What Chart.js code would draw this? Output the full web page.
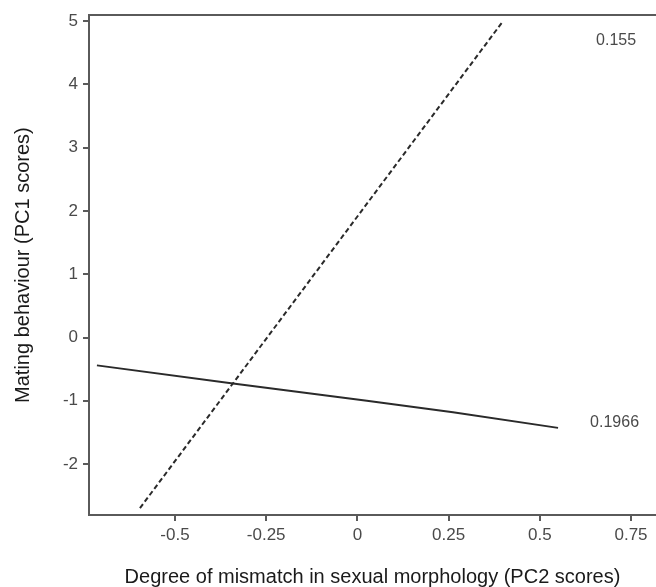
<!DOCTYPE html>
<html>
<head>
<meta charset="utf-8">
<script src="https://cdn.jsdelivr.net/npm/chart.js@4.4.1/dist/chart.umd.min.js"></script>
<style>
  html, body { margin: 0; padding: 0; background: #fff; }
  #wrap { width: 656px; height: 587px; position: relative; }
</style>
</head>
<body>
<div id="wrap"><canvas id="graphique"></canvas></div>
<script>
// Donnees
const solidX = [-0.714, -0.341, 0.026, 0.262, 0.55];
const solidY = [-0.44, -0.728, -1.0, -1.18, -1.428];
const dashedX = [-0.596, 0.399];
const dashedY = [-2.696, 5.0];

const xTicks = [-0.5, -0.25, 0, 0.25, 0.5, 0.75];
const xTickLabels = ['-0.5', '-0.25', '0', '0.25', '0.5', '0.75'];
const yTicks = [-2, -1, 0, 1, 2, 3, 4, 5];
const yTickLabels = ['-2', '-1', '0', '1', '2', '3', '4', '5'];

const labelTexts = ['0.155', '0.1966'];
const labelX = [0.709, 0.705];
const labelY = [4.70, -1.35];

const xTitle = 'Degree of mismatch in sexual morphology (PC2 scores)';
const yTitle = 'Mating behaviour (PC1 scores)';

// Styles
const axisColor = '#5a5a5a';
const tickColor = '#4a4a4a';
const lineColor = '#2a2a2a';
const fontFamily = 'Arial, "Liberation Sans", sans-serif';

const toPoints = (xs, ys) => xs.map((x, i) => ({ x: x, y: ys[i] }));

// Plugin pour les valeurs ecrites dans le graphique
const valueLabels = {
    id: 'valueLabels',
    afterDatasetsDraw(chart) {
        const ctx = chart.ctx;
        const sx = chart.scales.x;
        const sy = chart.scales.y;
        ctx.save();
        ctx.font = '16px ' + fontFamily;
        ctx.fillStyle = tickColor;
        ctx.textAlign = 'center';
        ctx.textBaseline = 'middle';
        labelTexts.forEach((t, i) => {
            ctx.fillText(t, sx.getPixelForValue(labelX[i]), sy.getPixelForValue(labelY[i]));
        });
        ctx.restore();
    }
};

const canvas = document.getElementById('graphique');

new Chart(canvas, {
    type: 'scatter',
    data: {
        datasets: [{
            data: toPoints(solidX, solidY),
            showLine: true,
            borderColor: lineColor,
            borderWidth: 2,
            pointRadius: 0,
            tension: 0
        }, {
            data: toPoints(dashedX, dashedY),
            showLine: true,
            borderColor: lineColor,
            borderWidth: 2,
            borderDash: [5, 3],
            pointRadius: 0,
            tension: 0
        }]
    },
    options: {
        responsive: true,
        maintainAspectRatio: false,
        animation: false,
        layout: { padding: { top: 14, right: 0, bottom: 0, left: 0 } },
        plugins: {
            legend: { display: false },
            tooltip: { enabled: false }
        },
        scales: {
            x: {
                type: 'linear',
                position: 'bottom',
                min: -0.7357,
                max: 0.8185,
                afterBuildTicks: s => { s.ticks = xTicks.map(v => ({ value: v })); },
                afterFit: s => { s.height = 72; },
                ticks: {
                    color: tickColor,
                    font: { family: fontFamily, size: 17 },
                    padding: 4,
                    maxRotation: 0,
                    callback: (v, i) => xTickLabels[i]
                },
                grid: { display: true, drawOnChartArea: false, drawTicks: true, tickLength: 6, color: axisColor, lineWidth: 2 },
                border: { display: true, color: axisColor, width: 2 },
                title: {
                    display: true,
                    text: xTitle,
                    color: '#1a1a1a',
                    font: { family: fontFamily, size: 20, lineHeight: 1 },
                    padding: 0
                }
            },
            xTop: {
                type: 'linear',
                position: 'top',
                min: -0.7357,
                max: 0.8185,
                afterFit: s => { s.height = 0; },
                ticks: { display: false },
                grid: { display: false, drawTicks: false },
                border: { display: true, color: axisColor, width: 2 }
            },
            y: {
                type: 'linear',
                min: -2.805,
                max: 5.095,
                afterBuildTicks: s => { s.ticks = yTicks.map(v => ({ value: v })); },
                afterFit: s => { s.width = 89; },
                ticks: {
                    color: tickColor,
                    font: { family: fontFamily, size: 17 },
                    padding: 5,
                    callback: (v, i) => yTickLabels[i]
                },
                grid: { display: true, drawOnChartArea: false, drawTicks: true, tickLength: 6, color: axisColor, lineWidth: 2 },
                border: { display: true, color: axisColor, width: 2 },
                title: {
                    display: true,
                    text: yTitle,
                    color: '#1a1a1a',
                    font: { family: fontFamily, size: 20, lineHeight: 1 },
                    padding: { top: 13, bottom: 0 }
                }
            }
        }
    },
    plugins: [valueLabels]
});
</script>
</body>
</html>
